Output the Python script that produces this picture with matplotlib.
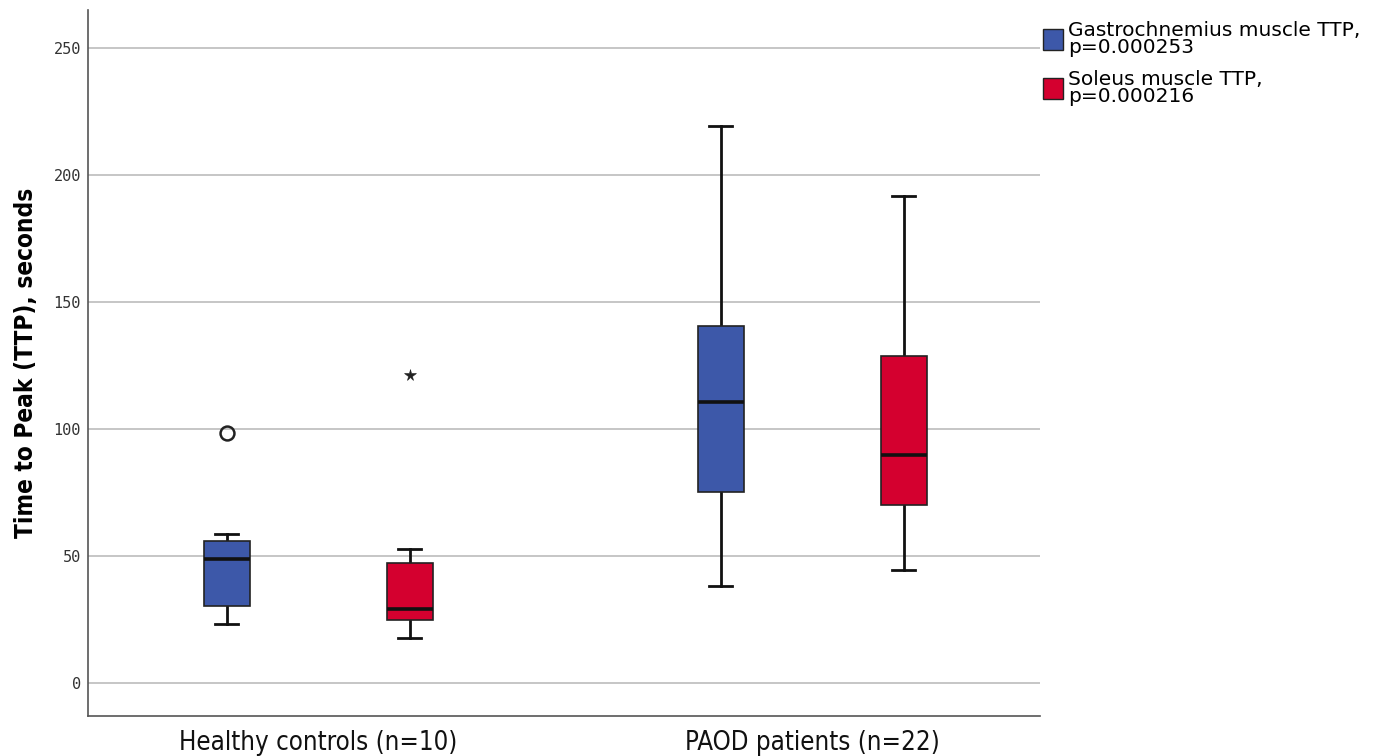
import matplotlib
matplotlib.use("Agg")
import matplotlib.pyplot as plt
from matplotlib.patches import Patch

# ---- data ----
groups = ["Healthy controls (n=10)", "PAOD patients (n=22)"]
series = ["Gastrochnemius muscle TTP,\np=0.000253", "Soleus muscle TTP,\np=0.000216"]
colors = ["#3d58a9", "#d4002f"]

# per series: [healthy, paod]
gastro_whislo = [23.2, 38.3]
gastro_q1 = [30.3, 75.1]
gastro_med = [48.8, 110.7]
gastro_q3 = [56.0, 140.6]
gastro_whishi = [58.7, 219.4]
gastro_fliers = [[98.3], []]

soleus_whislo = [17.7, 44.4]
soleus_q1 = [24.8, 70.1]
soleus_med = [29.3, 89.8]
soleus_q3 = [47.1, 128.7]
soleus_whishi = [52.9, 191.9]
soleus_fliers = [[121.3], []]

yticks = [0, 50, 100, 150, 200, 250]

# ---- figure ----
fig = plt.figure(figsize=(13.84, 7.56), dpi=100)
ax = fig.add_axes([88 / 1384, 1 - 716 / 756, (1040 - 88) / 1384, (716 - 10) / 756])

def make_stats(lo, q1, med, q3, hi, fl):
    return [dict(whislo=lo[i], q1=q1[i], med=med[i], q3=q3[i], whishi=hi[i],
                 fliers=fl[i]) for i in range(len(lo))]

offset = 0.185
width = 0.093
flier_markers = [["o", None], ["*", None]]

all_stats = [
    make_stats(gastro_whislo, gastro_q1, gastro_med, gastro_q3, gastro_whishi, gastro_fliers),
    make_stats(soleus_whislo, soleus_q1, soleus_med, soleus_q3, soleus_whishi, soleus_fliers),
]

for s, (stats, col) in enumerate(zip(all_stats, colors)):
    pos = [g + (s - 0.5) * 2 * offset for g in range(len(groups))]
    res = ax.bxp(stats, positions=pos, widths=width, patch_artist=True,
                 showfliers=True, manage_ticks=False,
                 boxprops=dict(facecolor=col, edgecolor="#222222", linewidth=1.2),
                 medianprops=dict(color="#111111", linewidth=2.6),
                 whiskerprops=dict(color="#111111", linewidth=2.0),
                 capprops=dict(color="#111111", linewidth=2.0),
                 capwidths=width / 2,
                 flierprops=dict(marker="o", markerfacecolor="none",
                                 markeredgecolor="#222222", markersize=10,
                                 markeredgewidth=1.8))
    for i, fl in enumerate(res["fliers"]):
        m = flier_markers[s][i]
        if m == "*":
            fl.set_marker("*")
            fl.set_markerfacecolor("#222222")
            fl.set_markersize(8.5)
            fl.set_markeredgewidth(0.4)
    for b in res["boxes"]:
        b.set_zorder(3)
    for m in res["medians"]:
        m.set_zorder(4)

ax.set_xlim(-0.466, 1.461)
ax.set_ylim(-13, 265)
ax.set_yticks(yticks)
ax.set_yticklabels([str(t) for t in yticks], fontsize=11, color="#333333",
                   family="DejaVu Sans Mono")
ax.set_xticks(range(len(groups)))
ax.set_xticklabels(groups, fontsize=18.5, color="#111111",
                   family="DejaVu Sans", stretch="condensed")
ax.tick_params(axis="y", length=0, pad=5)
ax.tick_params(axis="x", length=0, pad=10)
ax.yaxis.grid(True, color="#bcbcbc", linewidth=1.2)
ax.set_axisbelow(True)
for side in ["top", "right"]:
    ax.spines[side].set_visible(False)
for side in ["left", "bottom"]:
    ax.spines[side].set_color("#555555")
    ax.spines[side].set_linewidth(1.2)

ax.set_ylabel("Time to Peak (TTP), seconds", fontsize=17.5, fontweight="bold",
              family="DejaVu Sans", stretch="condensed", labelpad=11)

handles = [Patch(facecolor=c, edgecolor="#222222", linewidth=1.0) for c in colors]
leg = fig.legend(handles, series, loc="upper left",
                 bbox_to_anchor=(1035 / 1384, 1 - 13 / 756), frameon=False,
                 prop=dict(family="DejaVu Sans", size=14.5),
                 handlelength=1.0, handleheight=1.2,
                 handletextpad=0.25, labelspacing=0.65, borderaxespad=0)
for t in leg.get_texts():
    t.set_linespacing(0.85)

fig.savefig("out.png", dpi=100)
